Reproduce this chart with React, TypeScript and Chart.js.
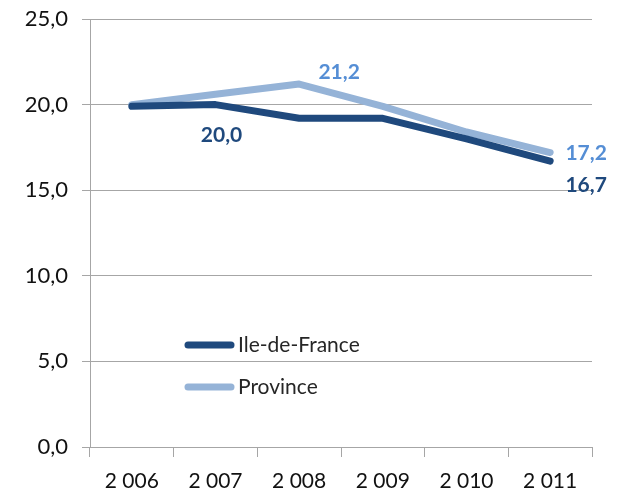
import React, { useEffect, useRef } from "react";
import { Chart, registerables } from "chart.js";

Chart.register(...registerables);

const categories = ["2 006", "2 007", "2 008", "2 009", "2 010", "2 011"];
const ileDeFrance = [19.9, 20.0, 19.2, 19.2, 18.0, 16.7];
const province = [20.0, 20.6, 21.2, 19.9, 18.4, 17.2];
const seriesNames = ["Ile-de-France", "Province"];
const ileDeFranceLabelIdx = [1, 5];
const provinceLabelIdx = [2, 5];
const yMin = 0;
const yMax = 25;
const yStep = 5;

const DARK = "#1F497D";
const LIGHT = "#95B3D7";
const DARK_LABEL = "#1F497D";
const LIGHT_LABEL = "#558ED5";
const FONT = "Lato, 'Open Sans', sans-serif";

const fmt = (v: number) => v.toFixed(1).replace(".", ",");

// label offsets (px) relative to point, per dataset
const labelOffsets: Record<number, Record<number, [number, number]>> = {
  0: { 1: [6, 31], 5: [36, 24] },
  1: { 2: [40, -12], 5: [36, 1] },
};

const overlayPlugin = {
  id: "overlay",
  afterDatasetsDraw(chart: any) {
    const ctx = chart.ctx;
    const labelIdx = [ileDeFranceLabelIdx, provinceLabelIdx];
    const colors = [DARK_LABEL, LIGHT_LABEL];
    ctx.save();
    ctx.font = `bold 21px ${FONT}`;
    ctx.textAlign = "center";
    ctx.textBaseline = "middle";
    chart.data.datasets.forEach((ds: any, di: number) => {
      const meta = chart.getDatasetMeta(di);
      labelIdx[di].forEach((i) => {
        const pt = meta.data[i];
        const [dx, dy] = labelOffsets[di][i];
        ctx.fillStyle = colors[di];
        ctx.fillText(fmt(ds.data[i]), pt.x + dx, pt.y + dy);
      });
    });
    // legend inside plot
    const ca = chart.chartArea;
    const lx = ca.left + 95;
    const ys = [ca.top + 326, ca.top + 368];
    const lcolors = [DARK, LIGHT];
    ctx.font = `21px ${FONT}`;
    ctx.textAlign = "left";
    seriesNames.forEach((name, k) => {
      ctx.strokeStyle = lcolors[k];
      ctx.lineWidth = 7;
      ctx.lineCap = "round";
      ctx.beginPath();
      ctx.moveTo(lx + 3, ys[k]);
      ctx.lineTo(lx + 46, ys[k]);
      ctx.stroke();
      ctx.fillStyle = "#262626";
      ctx.fillText(name, lx + 53, ys[k]);
    });
    ctx.restore();
  },
};

export default function App() {
  const ref = useRef<HTMLCanvasElement | null>(null);
  useEffect(() => {
    if (!ref.current) return;
    const chart = new Chart(ref.current, {
      type: "line",
      data: {
        labels: categories,
        datasets: [
          {
            label: seriesNames[0],
            data: ileDeFrance,
            borderColor: DARK,
            backgroundColor: DARK,
            borderWidth: 7,
            pointRadius: 0,
            borderCapStyle: "round",
            borderJoinStyle: "round",
            tension: 0,
          },
          {
            label: seriesNames[1],
            data: province,
            borderColor: LIGHT,
            backgroundColor: LIGHT,
            borderWidth: 7,
            pointRadius: 0,
            borderCapStyle: "round",
            borderJoinStyle: "round",
            tension: 0,
          },
        ],
      },
      options: {
        responsive: false,
        animation: false,
        devicePixelRatio: 1,
        layout: { padding: { top: 19, right: 25, left: 0, bottom: 0 } },
        plugins: {
          legend: { display: false },
          tooltip: { enabled: false },
          title: { display: false },
        },
        scales: {
          x: {
            type: "category",
            offset: true,
            grid: {
              offset: true,
              drawOnChartArea: false,
              drawTicks: true,
              tickLength: 10,
              color: "#A6A6A6",
            },
            border: { display: true, color: "#A6A6A6", width: 1 },
            ticks: {
              color: "#111",
              font: { family: FONT, size: 21 },
              padding: 12,
              maxRotation: 0,
              autoSkip: false,
            },
            afterFit: (s: any) => {
              s.height = 45;
              s.paddingLeft = 0;
              s.paddingRight = 0;
            },
          },
          y: {
            min: yMin,
            max: yMax,
            ticks: {
              stepSize: yStep,
              color: "#111",
              font: { family: FONT, size: 22 },
              padding: 14,
              callback: (v: any) => fmt(Number(v)),
            },
            grid: { color: "#A6A6A6", tickLength: 8, lineWidth: 1 },
            border: { display: true, color: "#A6A6A6", width: 1 },
            afterFit: (s: any) => {
              s.width = 90;
              s.paddingTop = 0;
              s.paddingBottom = 0;
            },
          },
        },
      },
      plugins: [overlayPlugin],
    } as any);
    return () => chart.destroy();
  }, []);
  return (
    <div style={{ position: "fixed", left: 0, top: 0, width: 617, height: 492, background: "#fff" }}>
      <canvas ref={ref} width={617} height={492} />
    </div>
  );
}
